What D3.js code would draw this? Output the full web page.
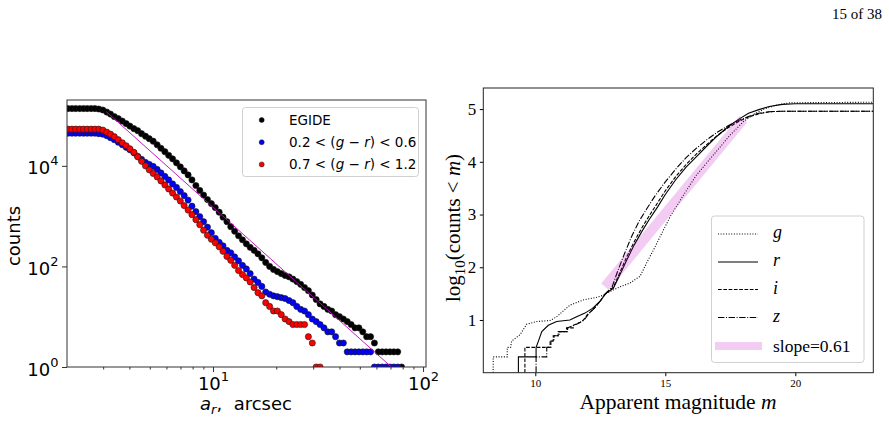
<!DOCTYPE html>
<html>
<head>
<meta charset="utf-8">
<script src="https://cdn.jsdelivr.net/npm/d3@7"></script>
<style>
  body { margin: 0; background: #fff; }
</style>
</head>
<body>
<svg width="889" height="421"></svg>
<script>
// ---- left panel: counts per a_r bin ----
var aR = [2.04, 2.13, 2.22, 2.32, 2.42, 2.52, 2.63, 2.74, 2.86, 2.99,
  3.12, 3.25, 3.39, 3.54, 3.70, 3.86, 4.02, 4.20, 4.38, 4.57,
  4.77, 4.97, 5.19, 5.42, 5.65, 5.90, 6.15, 6.42, 6.70, 6.99,
  7.29, 7.61, 7.94, 8.29, 8.65, 9.02, 9.41, 9.82, 10.25, 10.70,
  11.16, 11.65, 12.15, 12.68, 13.23, 13.81, 14.41, 15.03, 15.69, 16.37,
  17.08, 17.82, 18.60, 19.41, 20.25, 21.13, 22.05, 23.01, 24.01, 25.05,
  26.14, 27.28, 28.46, 29.70, 30.99, 32.34, 33.75, 35.21, 36.74, 38.34,
  40.01, 41.75, 43.56, 45.46, 47.43, 49.50, 51.65, 53.89, 56.24, 58.68,
  61.24, 63.90, 66.68, 69.58, 72.60, 75.76, 79.06];

var egideCounts = [138000, 138000, 138000, 138000, 138000, 138000, 138000, 138000, 135000, 129000,
  117500, 107000, 95500, 87100, 77600, 69200, 61700, 55000, 50100, 43600,
  38900, 34700, 30900, 26300, 22400, 19100, 16200, 13800, 11500, 9550,
  7940, 6610, 5250, 4070, 3240, 2630, 2140, 1780, 1480, 1200,
  955, 776, 617, 501, 407, 339, 282, 240, 209, 178,
  148, 120, 100, 87, 79, 72, 66, 62, 56, 50,
  44, 38, 33, 27, 22, 18, 16, 14, 13, 11,
  10, 9, 8, 7, 6, 6, 5, 4, 4, 3,
  2, 2, 2, 2, 2, 2, 1];

var blueCounts = [44700, 44700, 44700, 44700, 44700, 44700, 44700, 44700, 43700, 42700,
  39800, 36300, 33100, 29500, 26300, 23400, 20900, 18200, 15500, 13500,
  11700, 10700, 9770, 8510, 7240, 6170, 5250, 4370, 3720, 3090,
  2570, 2090, 1580, 1230, 977, 776, 603, 468, 363, 302,
  257, 209, 186, 155, 129, 105, 89, 72, 56, 48,
  40, 31, 28, 26, 25, 24, 23, 21, 19, 16,
  14, 13, 11, 9, 8, 7, 6, 5, 5, 4,
  3, 3, 2, 2, 2, 2, 2, 2, 2, 1,
  1, 1, 1, 1, 1, 1, 0];

var redCounts = [53700, 53700, 53700, 53700, 53700, 53700, 53700, 53700, 53700, 51300,
  46800, 42700, 38000, 33100, 28800, 25100, 21900, 18600, 15100, 12300,
  10000, 8320, 7080, 6030, 5010, 4170, 3470, 2880, 2400, 2000,
  1620, 1320, 1070, 851, 676, 525, 417, 347, 295, 245,
  200, 158, 132, 105, 83, 69, 59, 49, 38, 30,
  26, 19, 16, 13, 13, 11, 9, 8, 7, 7,
  7, 7, 4, 3, 1, 1, 0, 0, 0, 0,
  0, 0, 0, 0, 0, 0, 0, 0, 0, 0,
  0, 0, 0, 0, 0, 0, 0];

var fitA = [3.1, 70.7];
var fitCounts = [120000, 1];

var leftXMajor = [10, 100];
var leftXMinor = [3, 4, 5, 6, 7, 8, 9, 20, 30, 40, 50, 60, 70, 80, 90];
var leftYMajor = [1, 100, 10000];

// ---- right panel: log10 cumulative counts vs magnitude ----
var gMag = [8.38, 8.38, 8.92, 8.92, 9.05, 9.09, 9.41, 9.67, 10.05, 10.57, 10.82, 11.33, 11.85, 12.36, 12.62, 12.87, 13.26, 13.64, 14.03, 14.3, 14.6, 14.9, 15.2, 15.7, 16.2, 16.85, 17.5, 18.0, 18.4, 18.8, 19.3, 19.8, 23];
var gLog = [0, 0.30, 0.30, 0.48, 0.48, 0.60, 0.72, 0.92, 0.97, 0.99, 1.06, 1.28, 1.38, 1.43, 1.47, 1.54, 1.63, 1.70, 1.83, 2.1, 2.38, 2.68, 2.97, 3.37, 3.75, 4.13, 4.51, 4.76, 4.90, 5.0, 5.08, 5.12, 5.13];

var rMag = [9.35, 9.35, 10.03, 10.03, 10.12, 10.25, 10.5, 10.82, 11.33, 11.59, 11.91, 12.2, 12.5, 12.7, 13.0, 13.2, 13.5, 13.8, 14.1, 14.4, 14.7, 15.0, 15.4, 15.8, 16.2, 16.6, 17.0, 17.4, 17.8, 18.2, 18.6, 19.0, 19.5, 20.0, 23];
var rLog = [0, 0.30, 0.30, 0.48, 0.60, 0.78, 0.90, 0.97, 1.0, 1.06, 1.13, 1.22, 1.36, 1.50, 1.60, 1.80, 2.12, 2.42, 2.68, 2.92, 3.14, 3.38, 3.66, 3.90, 4.10, 4.30, 4.49, 4.66, 4.80, 4.92, 4.99, 5.05, 5.09, 5.10, 5.10];

var iMag = [9.6, 9.6, 10.44, 10.57, 10.57, 10.69, 10.69, 10.88, 10.88, 11.2, 11.2, 11.46, 11.46, 11.7, 11.85, 12.0, 12.3, 12.5, 12.7, 13.0, 13.2, 13.5, 13.8, 14.1, 14.4, 14.7, 15.0, 15.4, 15.8, 16.2, 16.6, 17.0, 17.4, 17.8, 18.2, 18.6, 19.0, 19.5, 23];
var iLog = [0, 0.48, 0.48, 0.48, 0.60, 0.60, 0.70, 0.70, 0.78, 0.78, 0.85, 0.85, 0.90, 0.95, 1.0, 1.1, 1.24, 1.36, 1.50, 1.62, 1.84, 2.18, 2.48, 2.75, 2.99, 3.22, 3.45, 3.72, 3.95, 4.15, 4.33, 4.50, 4.64, 4.76, 4.85, 4.91, 4.95, 4.96, 4.96];

var zMag = [10.03, 10.03, 10.44, 10.44, 10.6, 10.6, 10.72, 10.72, 10.92, 10.92, 11.24, 11.24, 11.5, 11.72, 11.88, 12.03, 12.3, 12.5, 12.7, 12.95, 13.15, 13.4, 13.7, 14.0, 14.3, 14.6, 15.0, 15.4, 15.8, 16.2, 16.6, 17.0, 17.4, 17.8, 18.2, 18.6, 19.0, 19.5, 23];
var zLog = [0, 0.30, 0.30, 0.48, 0.48, 0.60, 0.60, 0.70, 0.70, 0.78, 0.78, 0.85, 0.90, 0.95, 1.0, 1.1, 1.24, 1.36, 1.50, 1.62, 1.90, 2.22, 2.58, 2.88, 3.12, 3.35, 3.62, 3.86, 4.08, 4.26, 4.42, 4.56, 4.68, 4.78, 4.86, 4.92, 4.95, 4.96, 4.96];

var slopeMag = [12.68, 18.0];
var slopeLog = [1.63, 4.81];

var rightXTicks = [10, 15, 20];
var rightYTicks = [1, 2, 3, 4, 5];

var svg = d3.select("svg");
var sans = "'DejaVu Sans', sans-serif";
var serif = "'Liberation Serif', 'DejaVu Serif', serif";

// page number
svg.append("text")
    .attr("x", 882).attr("y", 19)
    .attr("text-anchor", "end")
    .attr("font-family", serif).attr("font-size", 15)
    .text("15 of 38");

// ================= left panel =================
var L = { x0: 67, x1: 426, y0: 100, y1: 367 };

var xL = d3.scaleLog().domain([2.018, 103.3]).range([L.x0, L.x1]);
var yL = d3.scaleLog().domain([1, 204000]).range([L.y1, L.y0]);

svg.append("clipPath").attr("id", "clipL")
  .append("rect")
    .attr("x", L.x0).attr("y", L.y0)
    .attr("width", L.x1 - L.x0).attr("height", L.y1 - L.y0);

var scatter = [
    { label: "EGIDE", counts: egideCounts, color: "#000000" },
    { label: "blue", counts: blueCounts, color: "#0000ff" },
    { label: "red", counts: redCounts, color: "#ff0000" }
];

var gl = svg.append("g").attr("clip-path", "url(#clipL)");

scatter.forEach(function (s) {
    var pts = d3.zip(aR, s.counts).filter(function (d) { return d[1] > 0; });
    gl.append("g").selectAll("circle")
        .data(pts).enter()
        .append("circle")
        .attr("cx", function (d) { return xL(d[0]); })
        .attr("cy", function (d) { return yL(d[1]); })
        .attr("r", 3.1)
        .attr("fill", s.color)
        .attr("stroke", "#1a1a1a")
        .attr("stroke-width", 0.6);
});

gl.append("path")
    .attr("d", d3.line()(fitA.map(function (a, i) { return [xL(a), yL(fitCounts[i])]; })))
    .attr("fill", "none")
    .attr("stroke", "#bf00bf")
    .attr("stroke-width", 0.9);

// axes
var axLx = svg.append("g")
    .attr("transform", "translate(0," + L.y1 + ")")
    .call(d3.axisBottom(xL).tickValues(leftXMajor).tickSize(5).tickPadding(5).tickFormat(function () { return ""; }));
svg.append("g")
    .attr("transform", "translate(0," + L.y1 + ")")
    .call(d3.axisBottom(xL).tickValues(leftXMinor).tickSize(2.5).tickFormat(function () { return ""; }))
    .call(function (g) { g.select(".domain").remove(); g.attr("color", "#333"); });
var axLy = svg.append("g")
    .attr("transform", "translate(" + L.x0 + ",0)")
    .call(d3.axisLeft(yL).tickValues(leftYMajor).tickSize(5).tickPadding(3.5).tickFormat(function () { return ""; }));

[axLx, axLy].forEach(function (ax) {
    ax.select(".domain").remove();
    ax.attr("font-family", sans).attr("font-size", 18).attr("color", "#333");
    ax.selectAll(".tick text").each(function (d) {
        var t = d3.select(this).attr("fill", "#000");
        t.append("tspan").text("10");
        t.append("tspan").attr("dy", -9).attr("font-size", 13).text(Math.round(Math.log10(d)));
    });
});
axLy.selectAll(".tick text").attr("dy", "0.45em");

svg.append("rect")
    .attr("x", L.x0).attr("y", L.y0)
    .attr("width", L.x1 - L.x0).attr("height", L.y1 - L.y0)
    .attr("fill", "none").attr("stroke", "#333").attr("stroke-width", 1);

// axis labels
var xlab = svg.append("text")
    .attr("x", 246).attr("y", 410)
    .attr("text-anchor", "middle")
    .attr("font-family", sans).attr("font-size", 18)
    .attr("xml:space", "preserve").style("white-space", "pre");
xlab.append("tspan").attr("font-style", "italic").text("a");
xlab.append("tspan").attr("font-style", "italic").attr("font-size", 13).attr("dy", 4).text("r");
xlab.append("tspan").attr("dy", -4).text(",  arcsec");

svg.append("text")
    .attr("transform", "translate(20,236) rotate(-90)")
    .attr("text-anchor", "middle")
    .attr("font-family", sans).attr("font-size", 18)
    .text("counts");

// legend
var lgL = svg.append("g");
lgL.append("rect")
    .attr("x", 242.5).attr("y", 107.5).attr("width", 176).attr("height", 69)
    .attr("rx", 3).attr("fill", "#fff").attr("fill-opacity", 0.8)
    .attr("stroke", "#d0d0d0").attr("stroke-width", 1);

var legendRows = [
    { color: "#000000", parts: [["EGIDE", false]] },
    { color: "#0000ff", parts: [["0.2 < (", false], ["g", true], [" \u2212 ", false], ["r", true], [") < 0.6", false]] },
    { color: "#ff0000", parts: [["0.7 < (", false], ["g", true], [" \u2212 ", false], ["r", true], [") < 1.2", false]] }
];
legendRows.forEach(function (row, i) {
    var cy = 120 + i * 22.2;
    lgL.append("circle").attr("cx", 261.7).attr("cy", cy).attr("r", 2.5)
        .attr("fill", row.color).attr("stroke", "#1a1a1a").attr("stroke-width", 0.5);
    var t = lgL.append("text").attr("x", 289).attr("y", cy + 4.8)
        .attr("font-family", sans).attr("font-size", 13.5)
        .attr("xml:space", "preserve").style("white-space", "pre");
    row.parts.forEach(function (p) {
        t.append("tspan").attr("font-style", p[1] ? "italic" : "normal").text(p[0]);
    });
});

// ================= right panel =================
var R = { x0: 483.3, x1: 873.3, y0: 88, y1: 372.7 };
var xR = d3.scaleLinear().domain([8, 23]).range([R.x0, R.x1]);
var yR = d3.scaleLinear().domain([0, 5.4]).range([R.y1, R.y0]);

svg.append("clipPath").attr("id", "clipR")
  .append("rect")
    .attr("x", R.x0).attr("y", R.y0)
    .attr("width", R.x1 - R.x0).attr("height", R.y1 - R.y0);

var bands = [
    { name: "g", mag: gMag, val: gLog, dash: "1,1.65" },
    { name: "r", mag: rMag, val: rLog, dash: null },
    { name: "i", mag: iMag, val: iLog, dash: "3.7,1.6" },
    { name: "z", mag: zMag, val: zLog, dash: "6.4,1.6,1,1.6" }
];

var lineR = d3.line()
    .x(function (d) { return xR(d[0]); })
    .y(function (d) { return yR(d[1]); });

var gr = svg.append("g").attr("clip-path", "url(#clipR)");
bands.forEach(function (b) {
    gr.append("path")
        .attr("d", lineR(d3.zip(b.mag, b.val)))
        .attr("fill", "none")
        .attr("stroke", "#000")
        .attr("stroke-width", 1.1)
        .attr("stroke-dasharray", b.dash);
});

gr.append("path")
    .attr("d", lineR(d3.zip(slopeMag, slopeLog)))
    .attr("fill", "none")
    .attr("stroke", "#bf00bf")
    .attr("stroke-opacity", 0.2)
    .attr("stroke-width", 10);

var axRx = svg.append("g")
    .attr("transform", "translate(0," + R.y1 + ")")
    .call(d3.axisBottom(xR).tickValues(rightXTicks).tickSize(3.5).tickPadding(3).tickFormat(d3.format("d")));
axRx.attr("font-family", serif).attr("font-size", 11);
var axRy = svg.append("g")
    .attr("transform", "translate(" + R.x0 + ",0)")
    .call(d3.axisLeft(yR).tickValues(rightYTicks).tickSize(3.5).tickPadding(3.5).tickFormat(d3.format("d")));
axRy.attr("font-family", serif).attr("font-size", 17);
[axRx, axRy].forEach(function (ax) { ax.select(".domain").remove(); });

svg.append("rect")
    .attr("x", R.x0).attr("y", R.y0)
    .attr("width", R.x1 - R.x0).attr("height", R.y1 - R.y0)
    .attr("fill", "none").attr("stroke", "#222").attr("stroke-width", 1);

var xlabR = svg.append("text")
    .attr("x", 678).attr("y", 409)
    .attr("text-anchor", "middle")
    .attr("font-family", serif).attr("font-size", 21.5);
xlabR.append("tspan").text("Apparent magnitude ");
xlabR.append("tspan").attr("font-style", "italic").text("m");

var ylabR = svg.append("text")
    .attr("transform", "translate(460,228) rotate(-90)")
    .attr("text-anchor", "middle")
    .attr("font-family", serif).attr("font-size", 21);
ylabR.append("tspan").text("log");
ylabR.append("tspan").attr("font-size", 15).attr("dy", 5).text("10");
ylabR.append("tspan").attr("dy", -5).text("(counts < ");
ylabR.append("tspan").attr("font-style", "italic").text("m");
ylabR.append("tspan").text(")");

// legend right
var lgR = svg.append("g");
lgR.append("rect")
    .attr("x", 711.5).attr("y", 216).attr("width", 152.5).attr("height", 146.5)
    .attr("rx", 3).attr("fill", "#fff").attr("fill-opacity", 0.8)
    .attr("stroke", "#d0d0d0").attr("stroke-width", 1);

var legendY = [234, 262, 289.5, 317.5];
bands.forEach(function (b, i) {
    lgR.append("line")
        .attr("x1", 718).attr("x2", 758)
        .attr("y1", legendY[i]).attr("y2", legendY[i])
        .attr("stroke", "#000").attr("stroke-width", 1.1)
        .attr("stroke-dasharray", b.dash);
    lgR.append("text")
        .attr("x", 773).attr("y", legendY[i] + 4)
        .attr("font-family", serif).attr("font-size", 18)
        .attr("font-style", "italic")
        .text(b.name);
});
lgR.append("line")
    .attr("x1", 715).attr("x2", 762)
    .attr("y1", 346).attr("y2", 346)
    .attr("stroke", "#bf00bf").attr("stroke-opacity", 0.2)
    .attr("stroke-width", 8);
lgR.append("text")
    .attr("x", 773).attr("y", 352)
    .attr("font-family", serif).attr("font-size", 17.5)
    .text("slope=0.61");
</script>
</body>
</html>
